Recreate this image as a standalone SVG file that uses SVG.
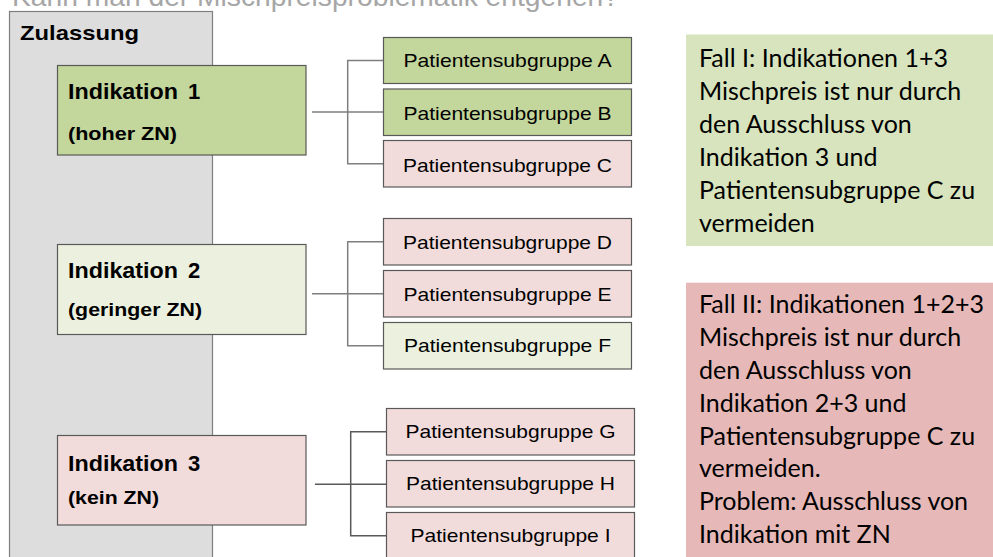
<svg xmlns="http://www.w3.org/2000/svg" width="993" height="557" viewBox="0 0 993 557">
<style>
.sans{font-family:"Liberation Sans",Arial,sans-serif;fill:#000}
.b{font-weight:bold}
.ind{font-size:22px}
.sub{font-size:19px;text-anchor:middle}
.box{stroke:#595959;stroke-width:1.2}
.green{fill:#c3d69b}
.light{fill:#ebf1de}
.pink{fill:#f2dcdb}
.note{font-family:Lato,"Open Sans",sans-serif;font-size:25px;fill:#000}
.conn{fill:none;stroke:#7f7f7f;stroke-width:1.5}
</style>
<rect width="993" height="557" fill="#ffffff"/>
<text id="title" class="sans" x="12" y="6" font-size="27" style="fill:#a6a6a6" textLength="607" lengthAdjust="spacingAndGlyphs">Kann man der Mischpreisproblematik entgehen?</text>
<g id="zulassung">
<rect x="9.5" y="11.5" width="203" height="570" fill="#dddddd" stroke="#7f7f7f" stroke-width="1.2"/>
<text class="sans b" x="20" y="40" font-size="21" textLength="119" lengthAdjust="spacingAndGlyphs">Zulassung</text>
</g>
<g id="connectors">
<path class="conn" d="M312,112 H383.5 M383.5,60.5 H347.7 V163.7 H383.5"/>
<path class="conn" d="M312,293.7 H383.5 M383.5,241.7 H347.7 V345.7 H383.5"/>
<path class="conn" style="stroke:#595959" d="M315,484.3 H386.5 M386.5,431.7 H350.7 V535.7 H386.5"/>
</g>
<g id="ind1">
<rect class="box green" x="57.5" y="65.5" width="248.5" height="89.5"/>
<text class="sans b ind" x="68" y="99" textLength="110" lengthAdjust="spacingAndGlyphs">Indikation</text>
<text class="sans b ind" x="188" y="99">1</text>
<text class="sans b" x="68" y="140" font-size="19" textLength="109" lengthAdjust="spacingAndGlyphs">(hoher ZN)</text>
</g>
<g id="ind2">
<rect class="box light" x="57.5" y="244.5" width="248.5" height="90"/>
<text class="sans b ind" x="68" y="278.3" textLength="110" lengthAdjust="spacingAndGlyphs">Indikation</text>
<text class="sans b ind" x="188" y="278.3">2</text>
<text class="sans b" x="68" y="315.5" font-size="19" textLength="134" lengthAdjust="spacingAndGlyphs">(geringer ZN)</text>
</g>
<g id="ind3">
<rect class="box pink" x="57.5" y="435.5" width="248.5" height="89.5"/>
<text class="sans b ind" x="68" y="470.5" textLength="110" lengthAdjust="spacingAndGlyphs">Indikation</text>
<text class="sans b ind" x="188" y="470.5">3</text>
<text class="sans b" x="68" y="503.5" font-size="19" textLength="91" lengthAdjust="spacingAndGlyphs">(kein ZN)</text>
</g>
<g id="subA"><rect class="box green" x="383.5" y="37.5" width="248" height="46"/><text class="sans sub" x="507.5" y="67.3" textLength="208" lengthAdjust="spacingAndGlyphs">Patientensubgruppe A</text></g>
<g id="subB"><rect class="box green" x="383.5" y="89" width="248" height="46.5"/><text class="sans sub" x="507.5" y="120" textLength="208" lengthAdjust="spacingAndGlyphs">Patientensubgruppe B</text></g>
<g id="subC"><rect class="box pink" x="383.5" y="140.5" width="248" height="46.5"/><text class="sans sub" x="507.5" y="171.7" textLength="209" lengthAdjust="spacingAndGlyphs">Patientensubgruppe C</text></g>
<g id="subD"><rect class="box pink" x="383.5" y="218.5" width="248" height="46.5"/><text class="sans sub" x="507.5" y="249" textLength="209" lengthAdjust="spacingAndGlyphs">Patientensubgruppe D</text></g>
<g id="subE"><rect class="box pink" x="383.5" y="270.5" width="248" height="46.5"/><text class="sans sub" x="507.5" y="300.7" textLength="208" lengthAdjust="spacingAndGlyphs">Patientensubgruppe E</text></g>
<g id="subF"><rect class="box light" x="383.5" y="322.5" width="248" height="46.5"/><text class="sans sub" x="507.5" y="352.3" textLength="207" lengthAdjust="spacingAndGlyphs">Patientensubgruppe F</text></g>
<g id="subG"><rect class="box pink" x="386.5" y="408.5" width="248" height="46.5"/><text class="sans sub" x="510.5" y="438.3" textLength="210" lengthAdjust="spacingAndGlyphs">Patientensubgruppe G</text></g>
<g id="subH"><rect class="box pink" x="386.5" y="460.5" width="248" height="46.5"/><text class="sans sub" x="510.5" y="490" textLength="209" lengthAdjust="spacingAndGlyphs">Patientensubgruppe H</text></g>
<g id="subI"><rect class="box pink" x="386.5" y="512.5" width="248" height="60"/><text class="sans sub" x="510.5" y="541.7" textLength="200" lengthAdjust="spacingAndGlyphs">Patientensubgruppe I</text></g>
<g id="fall1">
<rect x="686" y="34.5" width="310" height="211.5" fill="#d7e4bd"/>
<text class="note" x="699" y="67.2">Fall I: Indikationen 1+3</text>
<text class="note" x="699" y="100.1">Mischpreis ist nur durch</text>
<text class="note" x="699" y="133">den Ausschluss von</text>
<text class="note" x="699" y="165.9">Indikation 3 und</text>
<text class="note" x="699" y="198.8">Patientensubgruppe C zu</text>
<text class="note" x="699" y="231.7">vermeiden</text>
</g>
<g id="fall2">
<rect x="686" y="282.7" width="310" height="290" fill="#e6b9b8"/>
<text class="note" x="699" y="312.9">Fall II: Indikationen 1+2+3</text>
<text class="note" x="699" y="345.8">Mischpreis ist nur durch</text>
<text class="note" x="699" y="378.7">den Ausschluss von</text>
<text class="note" x="699" y="411.6">Indikation 2+3 und</text>
<text class="note" x="699" y="444.5">Patientensubgruppe C zu</text>
<text class="note" x="699" y="477.4">vermeiden.</text>
<text class="note" x="699" y="510.3">Problem: Ausschluss von</text>
<text class="note" x="699" y="543.2">Indikation mit ZN</text>
</g>
</svg>
